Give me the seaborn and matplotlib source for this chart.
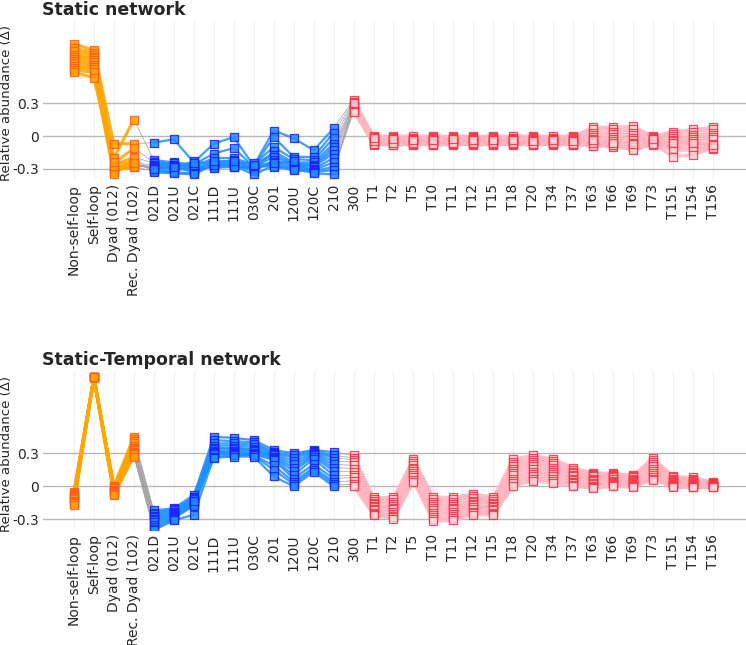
import matplotlib
matplotlib.use("Agg")
import matplotlib.pyplot as plt
import numpy as np
import pandas as pd
import seaborn as sns

BASE_LABELS = ["Non-self-loop", "Self-loop", "Dyad (012)", "Rec. Dyad (102)"]
TRIAD_LABELS = ["021D", "021U", "021C", "111D", "111U", "030C", "201", "120U", "120C", "210"]
TEMPORAL_LABELS = ["300", "T1", "T2", "T5", "T10", "T11", "T12", "T15", "T18", "T20",
                   "T34", "T37", "T63", "T66", "T69", "T73", "T151", "T154", "T156"]
CATEGORIES = BASE_LABELS + TRIAD_LABELS + TEMPORAL_LABELS

# --- static network: one row per network ---
STATIC_BASE = [
    [0.84, 0.78, -0.07, -0.07],
    [0.80, 0.76, -0.20, 0.15],
    [0.77, 0.74, -0.25, -0.11],
    [0.74, 0.72, -0.27, -0.19],
    [0.72, 0.71, -0.29, -0.25],
    [0.70, 0.69, -0.30, -0.28],
    [0.68, 0.67, -0.31, -0.26],
    [0.66, 0.65, -0.32, -0.27],
    [0.64, 0.63, -0.33, -0.25],
    [0.62, 0.61, -0.28, -0.28],
    [0.60, 0.58, -0.35, -0.20],
    [0.58, 0.53, -0.24, -0.25],
]
STATIC_TRIADS = [
    [-0.06, -0.03, -0.24, -0.07, -0.01, -0.27, 0.05, -0.02, -0.13, 0.07],
    [-0.22, -0.24, -0.26, -0.16, -0.11, -0.28, -0.01, -0.19, -0.19, 0.03],
    [-0.24, -0.25, -0.28, -0.20, -0.20, -0.26, -0.10, -0.21, -0.22, -0.02],
    [-0.25, -0.26, -0.29, -0.24, -0.22, -0.30, -0.14, -0.24, -0.24, -0.07],
    [-0.26, -0.27, -0.31, -0.25, -0.24, -0.25, -0.17, -0.25, -0.26, -0.10],
    [-0.27, -0.28, -0.33, -0.26, -0.25, -0.28, -0.19, -0.26, -0.27, -0.13],
    [-0.28, -0.29, -0.23, -0.27, -0.26, -0.32, -0.22, -0.27, -0.28, -0.16],
    [-0.29, -0.30, -0.30, -0.28, -0.27, -0.30, -0.24, -0.28, -0.30, -0.20],
    [-0.31, -0.32, -0.27, -0.29, -0.28, -0.29, -0.26, -0.29, -0.31, -0.24],
    [-0.32, -0.33, -0.34, -0.25, -0.27, -0.35, -0.27, -0.30, -0.32, -0.28],
    [-0.33, -0.34, -0.35, -0.26, -0.28, -0.27, -0.28, -0.31, -0.33, -0.31],
    [-0.30, -0.28, -0.25, -0.23, -0.23, -0.26, -0.25, -0.23, -0.34, -0.35],
]
STATIC_TEMPORAL = [
    [0.33, 0.00, 0.00, 0.00, 0.00, 0.00, 0.00, 0.00, 0.00, 0.00, 0.00, 0.00, 0.08, 0.08, 0.09, 0.00, 0.04, 0.06, 0.08],
    [0.31, -0.01, -0.01, -0.02, -0.01, -0.01, -0.01, -0.01, -0.02, -0.01, -0.02, -0.01, 0.06, 0.06, 0.06, -0.01, 0.02, 0.04, 0.06],
    [0.30, -0.02, -0.02, -0.03, -0.02, -0.02, -0.02, -0.02, -0.03, -0.02, -0.03, -0.02, 0.03, 0.04, 0.03, -0.02, 0.00, 0.01, 0.03],
    [0.29, -0.03, -0.03, -0.03, -0.03, -0.03, -0.03, -0.03, -0.03, -0.03, -0.03, -0.03, 0.01, 0.02, 0.01, -0.03, -0.02, -0.01, 0.01],
    [0.28, -0.04, -0.04, -0.04, -0.04, -0.04, -0.04, -0.04, -0.04, -0.04, -0.04, -0.04, -0.01, -0.01, -0.02, -0.04, -0.04, -0.03, -0.01],
    [0.27, -0.05, -0.05, -0.05, -0.05, -0.05, -0.05, -0.05, -0.05, -0.05, -0.05, -0.05, -0.03, -0.03, -0.04, -0.05, -0.05, -0.05, -0.03],
    [0.26, -0.06, -0.06, -0.06, -0.06, -0.06, -0.06, -0.06, -0.06, -0.06, -0.06, -0.06, -0.05, -0.05, -0.06, -0.06, -0.07, -0.07, -0.07],
    [0.25, -0.07, -0.07, -0.07, -0.07, -0.07, -0.07, -0.07, -0.07, -0.07, -0.07, -0.07, -0.07, -0.07, -0.08, -0.06, -0.09, -0.09, -0.09],
    [0.24, -0.08, -0.08, -0.08, -0.08, -0.08, -0.08, -0.08, -0.08, -0.08, -0.08, -0.08, -0.08, -0.09, -0.10, -0.07, -0.11, -0.11, -0.10],
    [0.23, -0.07, -0.08, -0.07, -0.08, -0.07, -0.07, -0.07, -0.07, -0.08, -0.07, -0.08, -0.09, -0.10, -0.12, -0.08, -0.13, -0.13, -0.12],
    [0.22, -0.05, -0.06, -0.06, -0.07, -0.06, -0.06, -0.06, -0.06, -0.07, -0.06, -0.07, -0.06, -0.08, -0.13, -0.07, -0.19, -0.17, -0.11],
    [0.30, -0.02, -0.03, -0.04, -0.04, -0.03, -0.04, -0.04, -0.04, -0.05, -0.04, -0.05, -0.04, -0.06, -0.07, -0.03, -0.06, -0.06, -0.08],
]

# --- static-temporal network ---
TEMPORAL_NET_BASE = [
    [-0.05, 0.99, 0.00, 0.45],
    [-0.06, 0.99, -0.01, 0.43],
    [-0.07, 0.99, -0.01, 0.41],
    [-0.08, 0.99, -0.02, 0.39],
    [-0.09, 0.99, -0.03, 0.37],
    [-0.10, 0.99, -0.03, 0.35],
    [-0.11, 0.99, -0.04, 0.34],
    [-0.12, 0.99, -0.05, 0.33],
    [-0.13, 0.99, -0.05, 0.31],
    [-0.14, 0.99, -0.06, 0.30],
    [-0.15, 0.99, -0.07, 0.29],
    [-0.17, 0.99, -0.08, 0.27],
]
TEMPORAL_NET_TRIADS = [
    [-0.22, -0.20, -0.08, 0.45, 0.44, 0.42, 0.33, 0.30, 0.33, 0.31],
    [-0.24, -0.21, -0.10, 0.42, 0.41, 0.40, 0.31, 0.28, 0.32, 0.28],
    [-0.25, -0.22, -0.11, 0.39, 0.39, 0.38, 0.30, 0.26, 0.31, 0.26],
    [-0.27, -0.23, -0.12, 0.37, 0.37, 0.36, 0.29, 0.23, 0.30, 0.23],
    [-0.28, -0.24, -0.13, 0.35, 0.35, 0.34, 0.28, 0.20, 0.29, 0.20],
    [-0.30, -0.25, -0.14, 0.34, 0.34, 0.33, 0.27, 0.17, 0.28, 0.17],
    [-0.31, -0.26, -0.15, 0.32, 0.32, 0.32, 0.26, 0.14, 0.27, 0.14],
    [-0.33, -0.27, -0.16, 0.31, 0.31, 0.30, 0.25, 0.10, 0.25, 0.10],
    [-0.35, -0.28, -0.17, 0.30, 0.30, 0.29, 0.24, 0.07, 0.20, 0.07],
    [-0.37, -0.29, -0.18, 0.29, 0.29, 0.28, 0.19, 0.04, 0.17, 0.04],
    [-0.39, -0.30, -0.13, 0.27, 0.28, 0.28, 0.15, 0.02, 0.15, 0.02],
    [-0.40, -0.31, -0.26, 0.26, 0.27, 0.27, 0.09, 0.00, 0.13, 0.00],
]
TEMPORAL_NET_TEMPORAL = [
    [0.28, -0.10, -0.10, 0.25, -0.10, -0.10, -0.07, -0.10, 0.25, 0.28, 0.25, 0.17, 0.12, 0.12, 0.10, 0.26, 0.09, 0.08, 0.04],
    [0.26, -0.12, -0.12, 0.23, -0.12, -0.12, -0.09, -0.12, 0.22, 0.26, 0.23, 0.15, 0.11, 0.11, 0.09, 0.24, 0.08, 0.07, 0.03],
    [0.24, -0.13, -0.14, 0.21, -0.14, -0.14, -0.11, -0.13, 0.20, 0.24, 0.21, 0.13, 0.10, 0.10, 0.08, 0.22, 0.07, 0.06, 0.03],
    [0.22, -0.15, -0.16, 0.19, -0.16, -0.16, -0.13, -0.15, 0.18, 0.22, 0.19, 0.12, 0.09, 0.09, 0.07, 0.20, 0.06, 0.05, 0.02],
    [0.19, -0.16, -0.18, 0.17, -0.18, -0.18, -0.14, -0.16, 0.16, 0.20, 0.17, 0.10, 0.07, 0.08, 0.06, 0.18, 0.05, 0.04, 0.02],
    [0.16, -0.18, -0.20, 0.16, -0.20, -0.20, -0.16, -0.18, 0.14, 0.18, 0.15, 0.09, 0.06, 0.07, 0.05, 0.16, 0.04, 0.03, 0.01],
    [0.13, -0.19, -0.21, 0.14, -0.22, -0.21, -0.17, -0.19, 0.12, 0.16, 0.13, 0.07, 0.05, 0.05, 0.04, 0.14, 0.03, 0.02, 0.01],
    [0.10, -0.21, -0.23, 0.12, -0.24, -0.23, -0.19, -0.21, 0.10, 0.13, 0.11, 0.06, 0.03, 0.04, 0.03, 0.12, 0.02, 0.01, 0.00],
    [0.08, -0.22, -0.25, 0.10, -0.26, -0.25, -0.21, -0.22, 0.07, 0.11, 0.09, 0.04, 0.02, 0.03, 0.02, 0.10, 0.01, 0.01, 0.00],
    [0.05, -0.24, -0.27, 0.08, -0.28, -0.27, -0.23, -0.24, 0.05, 0.09, 0.07, 0.03, 0.00, 0.02, 0.01, 0.08, 0.00, 0.00, 0.00],
    [0.02, -0.25, -0.28, 0.06, -0.30, -0.29, -0.24, -0.25, 0.03, 0.07, 0.05, 0.01, -0.01, 0.01, 0.00, 0.07, 0.00, -0.01, -0.01],
    [0.00, -0.26, -0.30, 0.04, -0.32, -0.31, -0.26, -0.26, 0.00, 0.05, 0.03, 0.00, -0.02, 0.00, -0.01, 0.06, -0.01, -0.01, -0.01],
]

Y_TICKS = [-0.3, 0, 0.3]
Y_TICK_LABELS = ["-0.3", "0", "0.3"]

# (first index, last index exclusive, line colour, line width, marker face, marker edge)
GROUP_STYLES = [
    (0, 4, "#ffa500", 2.2, "#ffa500", "#ff5a1f"),
    (4, 14, "#1e90ff", 1.6, "#1e90ff", "#1a1aff"),
    (14, 33, "#ffb6c1", 2.2, "#ffd6dc", "#ff2a3a"),
]


def to_long(base, triads, temporal):
    values = np.hstack([np.array(base), np.array(triads), np.array(temporal)])
    rows = []
    for net, row in enumerate(values):
        for pos, v in enumerate(row):
            rows.append({"net": net, "pos": pos, "value": v})
    return pd.DataFrame(rows)


def draw_panel(ax, df, title):
    # grey connectors between groups
    for b in [3, 13]:
        sub = df[df["pos"].isin([b, b + 1])]
        sns.lineplot(data=sub, x="pos", y="value", units="net", estimator=None,
                     color="#9a9a9a", lw=0.6, alpha=0.8, ax=ax, legend=False, zorder=2)
    for start, end, lc, lw, fc, ec in GROUP_STYLES:
        sub = df[(df["pos"] >= start) & (df["pos"] < end)]
        sns.lineplot(data=sub, x="pos", y="value", units="net", estimator=None,
                     color=lc, lw=lw, alpha=0.85, ax=ax, legend=False, zorder=3)
        sns.scatterplot(data=sub, x="pos", y="value", marker="s", s=26,
                        color=fc, edgecolor=ec, linewidth=0.9, alpha=0.85,
                        ax=ax, legend=False, zorder=4)

    ax.set_xlim(-1.55, 33.65)
    ax.set_ylim(-0.4, 1.05)
    ax.set_xticks(range(len(CATEGORIES)))
    ax.set_xticklabels(CATEGORIES, rotation=90, fontsize=10)
    ax.set_yticks(Y_TICKS)
    ax.set_yticklabels(Y_TICK_LABELS, fontsize=10)
    ax.set_xlabel("")
    ax.set_ylabel("Relative abundance (Δ)", fontsize=9.5)
    ax.yaxis.set_label_coords(-0.043, 0.48)
    ax.yaxis.grid(True, color="#b8b8b8", lw=1)
    ax.xaxis.grid(True, color="#f1f1f1", lw=0.8)
    ax.set_axisbelow(True)
    ax.tick_params(axis="both", length=0, pad=3)
    sns.despine(ax=ax, left=True, bottom=True)
    ax.set_title(title, loc="left", fontsize=12.5, fontweight="bold", pad=4, x=-0.002)


sns.set_style("white")
fig = plt.figure(figsize=(7.46, 6.45), dpi=100)
ax_top = fig.add_axes([0.0576, 0.721, 0.9424, 0.247])
ax_bot = fig.add_axes([0.0576, 0.178, 0.9424, 0.247])

draw_panel(ax_top, to_long(STATIC_BASE, STATIC_TRIADS, STATIC_TEMPORAL), "Static network")
draw_panel(ax_bot, to_long(TEMPORAL_NET_BASE, TEMPORAL_NET_TRIADS, TEMPORAL_NET_TEMPORAL),
           "Static-Temporal network")

fig.savefig("out.png", dpi=100)
